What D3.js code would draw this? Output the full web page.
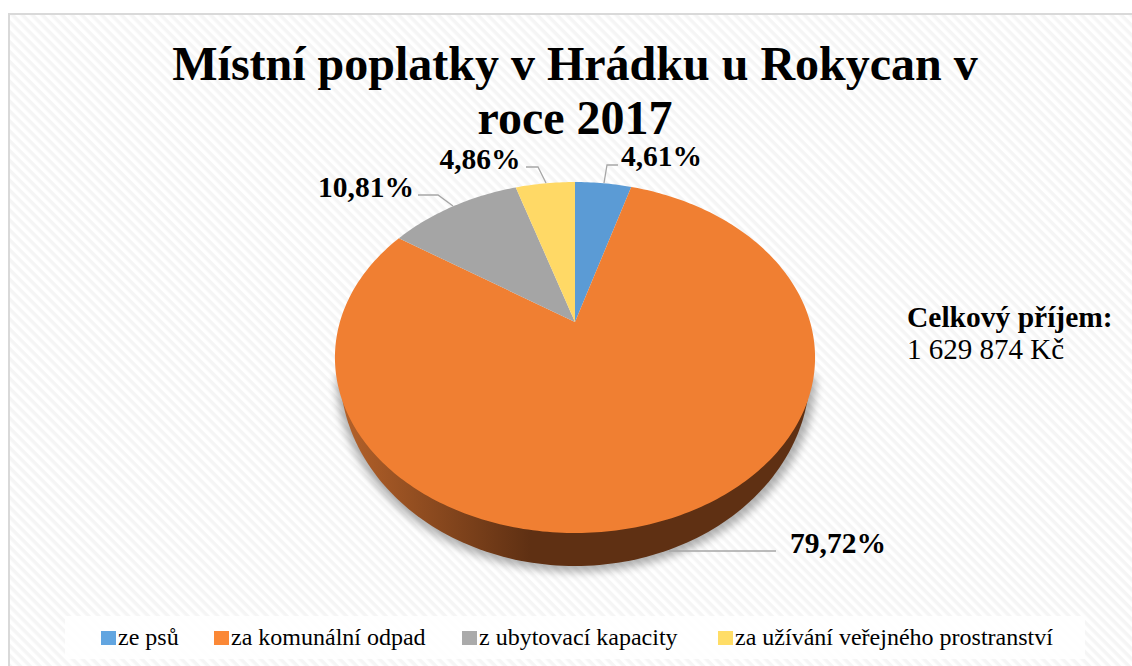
<!DOCTYPE html>
<html>
<head>
<meta charset="utf-8">
<script src="https://cdnjs.cloudflare.com/ajax/libs/d3/7.8.5/d3.min.js"></script>
<style>
body { margin: 0; background: #fff; }
text { font-family: "Liberation Serif", serif; fill: #000; }
</style>
</head>
<body>
<div id="container"></div>
<script>
var categories = ["ze psů", "za komunální odpad", "z ubytovací kapacity", "za užívání veřejného prostranství"];
var shares = [4.61, 79.72, 10.81, 4.86];
var shareLabels = ["4,61%", "79,72%", "10,81%", "4,86%"];
var titleLines = ["Místní poplatky v Hrádku u Rokycan v", "roce 2017"];
var colors = ["#5b9bd5", "#f07f32", "#a5a5a5", "#ffd966"];
var legendColors = ["#62a5e0", "#fb8836", "#aaaaaa", "#ffdd66"];

var width = 1132, height = 666;
var cx = 575, cy = 322;

// tilted pie: unit circle is pushed through a perspective so the apex sits above the middle
var persp = -0.2023, ky = 168.3, kx = 235.1;
function project(a) {
	var u = Math.sin(a), v = -Math.cos(a);
	var d = 1 + persp * v;
	return [cx + kx * u / d, cy + ky * v / d];
}

// lower half of an ellipse, used for the side wall and its shadow
function lowerHalf(x0, y0, rx, ry) {
	return d3.range(0, 121).map(i => {
		var t = Math.PI * i / 120;
		return [x0 + rx * Math.cos(t), y0 + ry * Math.sin(t)];
	});
}

var svg = d3.select("#container").append("svg")
	.attr("width", width)
	.attr("height", height)
	.style("display", "block");

var defs = svg.append("defs");

var stripes = defs.append("pattern")
	.attr("id", "stripes")
	.attr("width", 7)
	.attr("height", 7)
	.attr("patternUnits", "userSpaceOnUse")
	.attr("patternTransform", "rotate(45)");
stripes.append("rect").attr("width", 7).attr("height", 7).attr("fill", "#ffffff");
stripes.append("rect").attr("width", 7).attr("height", 3.5).attr("fill", "#f5f5f5");

var sideGrad = defs.append("linearGradient")
	.attr("id", "side")
	.attr("gradientUnits", "userSpaceOnUse")
	.attr("x1", 340).attr("x2", 815).attr("y1", 0).attr("y2", 0);
sideGrad.append("stop").attr("offset", "0").attr("stop-color", "#b5622a");
sideGrad.append("stop").attr("offset", "0.4").attr("stop-color", "#5f3013");
sideGrad.append("stop").attr("offset", "1").attr("stop-color", "#5f3013");

defs.append("filter").attr("id", "blur")
	.attr("x", "-10%").attr("y", "-10%").attr("width", "120%").attr("height", "120%")
	.append("feGaussianBlur").attr("stdDeviation", 4);

// chart area, bottom and right edges run off the page
svg.append("rect")
	.attr("x", 9).attr("y", 14)
	.attr("width", width).attr("height", height)
	.attr("fill", "url(#stripes)")
	.attr("stroke", "#d9d9d9")
	.attr("stroke-width", 2);

svg.append("g").selectAll("text")
	.data(titleLines)
	.enter().append("text")
	.attr("x", 575)
	.attr("y", (d, i) => 80 + i * 54)
	.attr("text-anchor", "middle")
	.style("font-size", "48px")
	.style("font-weight", "bold")
	.text(d => d);

var pie = d3.pie().sort(null).value(d => d);
var arcs = pie(shares);
var line = d3.line();

svg.append("path")
	.attr("d", line(lowerHalf(576, 376, 240, 196)) + "Z")
	.attr("fill", "#000")
	.attr("opacity", 0.3)
	.attr("filter", "url(#blur)");

// side wall, the top disc covers everything but the front rim
svg.append("path")
	.attr("d", line(lowerHalf(575, 372, 235, 194)) + "Z")
	.attr("fill", "url(#side)");

// the whole rim first so the wall does not show between slices
svg.append("g").selectAll("path")
	.data(arcs)
	.enter().append("path")
	.attr("d", d => {
		var n = Math.max(2, Math.ceil((d.endAngle - d.startAngle) * 60));
		var pts = d3.range(0, n + 1).map(i => project(d.startAngle + (d.endAngle - d.startAngle) * i / n));
		return line([[cx, cy]].concat(pts)) + "Z";
	})
	.attr("fill", (d, i) => colors[i]);

// data labels and their leader lines
var labelPos = [[661.5, 166], [838, 553], [366, 197], [480, 169]];
var leaders = [
	[[604, 183], [607, 165], [618, 165]],
	[[669, 551], [776, 551]],
	[[453, 206], [438, 195], [418, 195]],
	[[546, 183], [538, 167], [526, 167]]
];

svg.append("g").selectAll("path")
	.data(leaders)
	.enter().append("path")
	.attr("d", d => line(d))
	.attr("fill", "none")
	.attr("stroke", "#a6a6a6")
	.attr("stroke-width", 1.3);

svg.append("g").selectAll("text")
	.data(shareLabels)
	.enter().append("text")
	.attr("x", (d, i) => labelPos[i][0])
	.attr("y", (d, i) => labelPos[i][1])
	.attr("text-anchor", "middle")
	.style("font-size", "29.5px")
	.style("font-weight", "bold")
	.text(d => d);

// total
svg.append("text").attr("x", 907).attr("y", 327)
	.style("font-size", "29.5px").style("font-weight", "bold").text("Celkový příjem:");
svg.append("text").attr("x", 907).attr("y", 359)
	.style("font-size", "29px").text("1 629 874 Kč");

// legend
svg.append("rect")
	.attr("x", 65).attr("y", 616).attr("width", 1020).attr("height", 43)
	.attr("fill", "#fff").attr("opacity", 0.85);

var legendX = [101, 214, 462, 718];
var legend = svg.append("g").selectAll("g")
	.data(categories)
	.enter().append("g")
	.attr("transform", (d, i) => "translate(" + legendX[i] + ",631)");
legend.append("rect")
	.attr("width", 15).attr("height", 14)
	.attr("fill", (d, i) => legendColors[i]);
legend.append("text")
	.attr("x", 17).attr("y", 14)
	.style("font-size", "24px")
	.text(d => d);
</script>
</body>
</html>
